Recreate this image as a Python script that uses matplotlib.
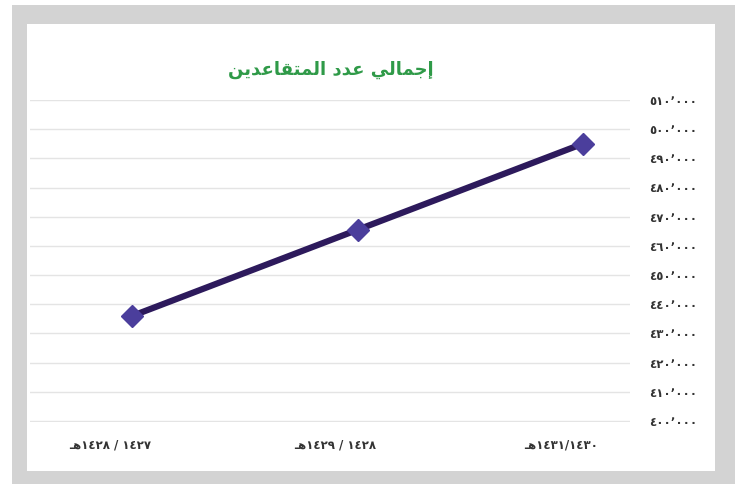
import matplotlib.pyplot as plt
import matplotlib.transforms as mtransforms
from matplotlib.patches import Rectangle

# data
years = ['\u0640\uFEEB١٤٢٨ / ١٤٢٧', '\u0640\uFEEB١٤٢٩ / ١٤٢٨', '\u0640\uFEEB١٤٣١/١٤٣٠']
retirees = [436000, 465500, 495000]
y_ticks = list(range(400000, 510001, 10000))

title_text = 'إجمالي عدد المتقاعدين'

# simple arabic shaping (iso, fin, ini, med)
forms = {
    'ا': ('\uFE8D', '\uFE8E', None, None),
    'إ': ('\uFE87', '\uFE88', None, None),
    'د': ('\uFEA9', '\uFEAA', None, None),
    'ج': ('\uFE9D', '\uFE9E', '\uFE9F', '\uFEA0'),
    'م': ('\uFEE1', '\uFEE2', '\uFEE3', '\uFEE4'),
    'ل': ('\uFEDD', '\uFEDE', '\uFEDF', '\uFEE0'),
    'ي': ('\uFEF1', '\uFEF2', '\uFEF3', '\uFEF4'),
    'ع': ('\uFEC9', '\uFECA', '\uFECB', '\uFECC'),
    'ت': ('\uFE95', '\uFE96', '\uFE97', '\uFE98'),
    'ق': ('\uFED5', '\uFED6', '\uFED7', '\uFED8'),
    'ن': ('\uFEE5', '\uFEE6', '\uFEE7', '\uFEE8'),
}


def shape(word):
    out = []
    for i, ch in enumerate(word):
        prev = word[i - 1] if i > 0 else None
        nxt = word[i + 1] if i < len(word) - 1 else None
        join_prev = prev is not None and forms[prev][2] is not None
        join_next = nxt is not None and forms[ch][2] is not None
        iso, fin, ini, med = forms[ch]
        if join_prev and join_next:
            out.append(med)
        elif join_prev:
            out.append(fin)
        elif join_next:
            out.append(ini)
        else:
            out.append(iso)
    return ''.join(out)


def visual(text):
    words = [shape(w)[::-1] for w in text.split(' ')]
    return ' '.join(words[::-1])


def fmt(v):
    digits = '٠١٢٣٤٥٦٧٨٩'
    s = str(v)
    s = s[:-3] + '٬' + s[-3:]
    return ''.join(digits[int(c)] if c.isdigit() else c for c in s)


W, H = 735, 484
fig = plt.figure(figsize=(W / 100, H / 100), dpi=100)
fig.patch.set_facecolor('white')

# gray frame and white card
fig.patches.append(Rectangle((12 / W, 0), 1 - 12 / W, 1 - 5 / H, transform=fig.transFigure,
                             facecolor='#d3d3d3', edgecolor='none', zorder=0))
fig.patches.append(Rectangle((27 / W, 1 - 471 / H), (715 - 27) / W, (471 - 24) / H,
                             transform=fig.transFigure, facecolor='white', edgecolor='none', zorder=1))

ax = fig.add_axes([30 / W, 1 - 422 / H, (630 - 30) / W, (422 - 100) / H])
ax.set_zorder(3)
ax.set_facecolor('none')
x = range(len(years))
ax.plot(x, retirees, color='#2d1a5c', linewidth=4.5, zorder=3, solid_capstyle='round')
ax.plot(x, retirees, linestyle='none', marker='D', markersize=11,
        color='#4b3e9c', zorder=4)

ax.set_xlim(-0.455, 2.21)
ax.set_ylim(399600, 510000)
ax.set_yticks(y_ticks)
ax.set_yticklabels([fmt(v) for v in y_ticks], fontsize=8.5, color='#333333',
                   fontweight='bold')
ax.yaxis.tick_right()
ax.set_xticks(list(x))
ax.set_xticklabels(years, fontsize=8.5, color='#333333', fontweight='bold')
ax.tick_params(length=0)
ax.tick_params(axis='y', pad=14)
ax.tick_params(axis='x', pad=12)
ax.grid(axis='y', color='#e4e4e4', linewidth=1)
for s in ax.spines.values():
    s.set_visible(False)

# x labels sit a little left of the points in the reference
shift = mtransforms.ScaledTranslation(-22 / 100, 0, fig.dpi_scale_trans)
for lbl in ax.get_xticklabels():
    lbl.set_transform(lbl.get_transform() + shift)

fig.text(331 / W, 1 - 70 / H, visual(title_text), ha='center', va='center',
         fontsize=13, fontweight='bold', color='#2f9a48', zorder=5)

fig.savefig('out.png', dpi=100)
